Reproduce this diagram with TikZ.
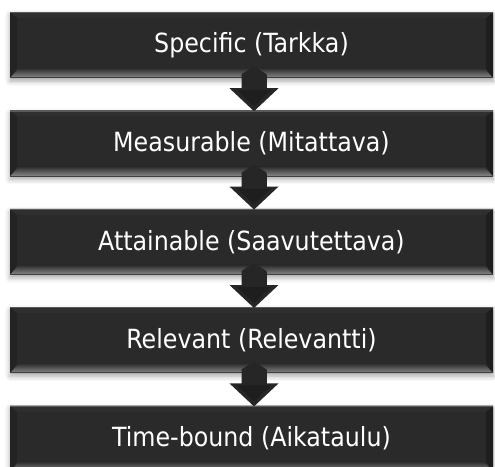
\documentclass[tikz,border=0pt]{standalone}
\usepackage{fontspec}
\setmainfont{DejaVu Sans Condensed}
\usetikzlibrary{calc,shadows.blur}
\definecolor{boxfill}{HTML}{2A2A2A}
\definecolor{boxleft}{HTML}{232323}
\definecolor{boxright}{HTML}{1E1E1E}
\definecolor{boxtop}{HTML}{2F2F2F}
\definecolor{bevelhi}{HTML}{8A8A8A}
\definecolor{toprim}{HTML}{5A5A5A}
\definecolor{arrowfill}{HTML}{262626}
\definecolor{arrowdark}{HTML}{1E1E1E}
\begin{document}
\begin{tikzpicture}[x=1pt,y=-1pt,
  stepbox/.style={minimum width=483pt, minimum height=66pt, inner sep=0pt,
    fill=boxfill, text=white, font=\fontsize{26.4}{30}\selectfont,
    blur shadow={shadow xshift=0pt, shadow yshift=-3pt,
      shadow blur radius=5pt, shadow opacity=35},
    path picture={
      % left and right bevel faces
      \fill[boxleft] (path picture bounding box.south west)
        -- (path picture bounding box.north west)
        -- ([xshift=7pt,yshift=-6pt]path picture bounding box.north west)
        -- ([xshift=7pt,yshift=10pt]path picture bounding box.south west) -- cycle;
      \fill[boxright] (path picture bounding box.south east)
        -- (path picture bounding box.north east)
        -- ([xshift=-7pt,yshift=-6pt]path picture bounding box.north east)
        -- ([xshift=-7pt,yshift=10pt]path picture bounding box.south east) -- cycle;
      % top bevel face
      \fill[boxtop] (path picture bounding box.north west)
        -- (path picture bounding box.north east)
        -- ([xshift=-7pt,yshift=-6pt]path picture bounding box.north east)
        -- ([xshift=7pt,yshift=-6pt]path picture bounding box.north west) -- cycle;
      % bottom bevel face, lit from below
      \shade[top color=boxfill, bottom color=bevelhi]
        (path picture bounding box.south west)
        -- (path picture bounding box.south east)
        -- ([xshift=-9pt,yshift=10pt]path picture bounding box.south east)
        -- ([xshift=9pt,yshift=10pt]path picture bounding box.south west) -- cycle;
      \draw[toprim, line width=1.2pt]
        ([yshift=-0.6pt]path picture bounding box.north west)
        -- ([yshift=-0.6pt]path picture bounding box.north east);
      \draw[black!75, line width=0.8pt]
        ([yshift=0.4pt]path picture bounding box.south west)
        -- ([yshift=0.4pt]path picture bounding box.south east);
    }},
  ]
\useasboundingbox (0,0) rectangle (495,466);
\clip (0,0) rectangle (495,466);

\node[stepbox] (b1) at (251.5,45)    {Specific (Tarkka)};
\node[stepbox] (b2) at (251.5,143.4) {Measurable (Mitattava)};
\node[stepbox] (b3) at (251.5,241.8) {Attainable (Saavutettava)};
\node[stepbox] (b4) at (251.5,340.2) {Relevant (Relevantti)};
\node[stepbox] (b5) at (251.5,438.6) {Time-bound (Aikataulu)};

% down arrows linking consecutive steps
\foreach \a/\b in {b1/b2,b2/b3,b3/b4,b4/b5}{
  \coordinate (tip) at ($(\b.north)+(2.5,1)$);
  \fill[arrowfill] (tip) -- ++(24.5,-23) -- ++(-12,0) -- ++(0,-14)
    -- ++(-12.5,-8) -- ++(-12.5,8) -- ++(0,14) -- ++(-12,0) -- cycle;
  \fill[arrowdark] ($(tip)+(0,-5)$) -- ++(17,-16) -- ++(-34,0) -- cycle;
  \fill[arrowfill] ($(tip)+(-12.5,-22)$) rectangle ($(tip)+(12.5,-36)$);
}
\end{tikzpicture}
\end{document}
